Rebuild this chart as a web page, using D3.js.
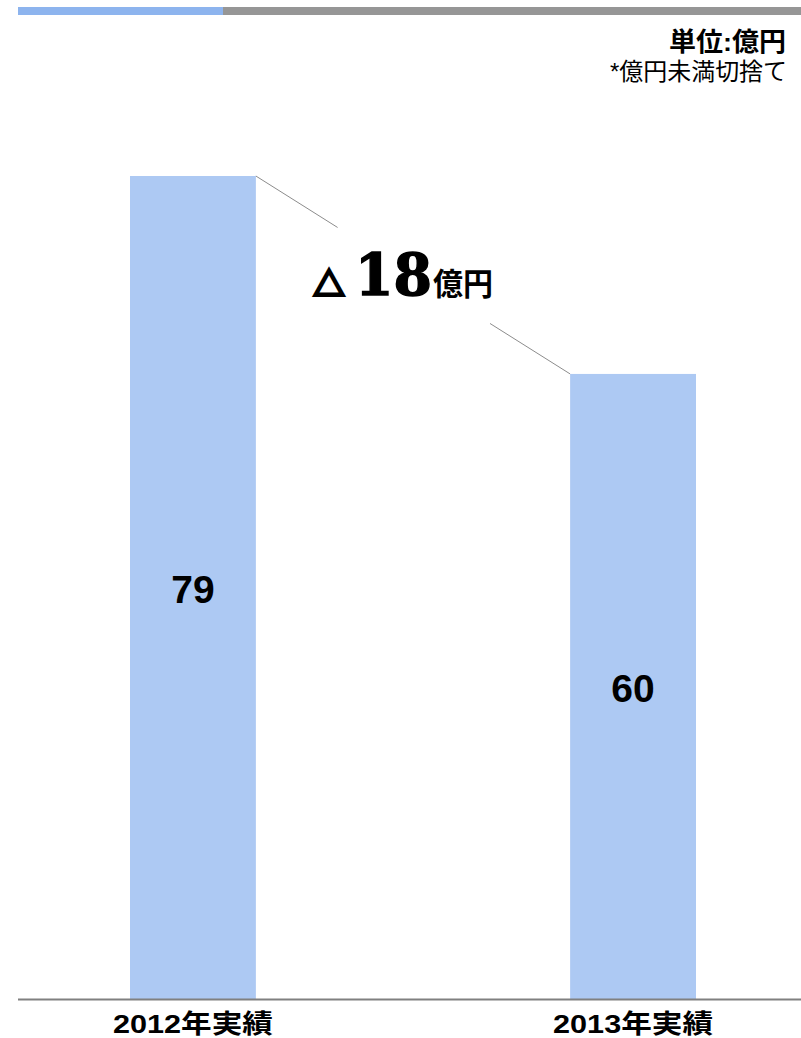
<!DOCTYPE html>
<html><head><meta charset="utf-8">
<script src="https://cdn.jsdelivr.net/npm/d3@7"></script>
<style>html,body{margin:0;padding:0;background:#fff;}svg{display:block;}</style>
</head><body>
<script>
const categories = ["2012年実績", "2013年実績"];
const values = [79, 60];
const deltaSymbol = "△";
const deltaNumber = "18";
const deltaUnit = "億円";
const unitLabel = "単位:億円";
const noteLabel = "*億円未満切捨て";

const W = 801, H = 1038;
const JP = "'Liberation Sans', 'Noto Sans CJK JP', sans-serif";
const svg = d3.select("body").append("svg").attr("width", W).attr("height", H);

// top decorative bar
svg.append("rect").attr("x", 18).attr("y", 7).attr("width", 783).attr("height", 8).attr("fill", "#969696");
svg.append("rect").attr("x", 18).attr("y", 7).attr("width", 205).attr("height", 8).attr("fill", "#8db4ee");

svg.append("text").attr("x", 786).attr("y", 51).attr("text-anchor", "end")
  .attr("font-family", JP).attr("font-weight", "bold").attr("font-size", 26)
  .attr("textLength", 117).attr("lengthAdjust", "spacingAndGlyphs")
  .text(unitLabel);
svg.append("text").attr("x", 787).attr("y", 80).attr("text-anchor", "end")
  .attr("font-family", JP).attr("font-size", 24)
  .attr("textLength", 177).attr("lengthAdjust", "spacingAndGlyphs")
  .text(noteLabel);

const x = d3.scaleBand().domain(categories).range([130, 696]).paddingInner(0.714).paddingOuter(0);
const y = d3.scaleLinear().domain([0, 79]).range([999, 176]);

svg.selectAll("rect.bar").data(values).enter().append("rect").attr("class", "bar")
  .attr("x", (d, i) => x(categories[i]))
  .attr("y", d => y(d))
  .attr("width", x.bandwidth())
  .attr("height", d => y(0) - y(d))
  .attr("fill", "#adc9f3");

svg.selectAll("text.val").data(values).enter().append("text").attr("class", "val")
  .attr("x", (d, i) => x(categories[i]) + x.bandwidth() / 2)
  .attr("y", d => (y(d) + y(0)) / 2 + 15.5)
  .attr("text-anchor", "middle")
  .attr("font-family", "Liberation Sans").attr("font-weight", "bold").attr("font-size", 39)
  .text(d => d);

// baseline
svg.append("line").attr("x1", 18).attr("x2", 801).attr("y1", y(0) + 0.5).attr("y2", y(0) + 0.5)
  .attr("stroke", "#808080").attr("stroke-width", 2);

// category labels
svg.selectAll("text.cat").data(categories).enter().append("text").attr("class", "cat")
  .attr("x", d => x(d) + x.bandwidth() / 2)
  .attr("y", 1032.5)
  .attr("text-anchor", "middle")
  .attr("font-family", JP).attr("font-weight", "bold").attr("font-size", 26)
  .attr("textLength", 160).attr("lengthAdjust", "spacingAndGlyphs")
  .text(d => d);

// connector lines
const x1 = x(categories[0]) + x.bandwidth(), y1 = y(values[0]);
const x2 = x(categories[1]), y2 = y(values[1]);
const lerp = t => [x1 + (x2 - x1) * t, y1 + (y2 - y1) * t];
const a = lerp(0.26), b = lerp(0.745);
svg.append("line").attr("x1", x1).attr("y1", y1).attr("x2", a[0]).attr("y2", a[1])
  .attr("stroke", "#8c8c8c").attr("stroke-width", 1);
svg.append("line").attr("x1", b[0]).attr("y1", b[1]).attr("x2", x2).attr("y2", y2)
  .attr("stroke", "#8c8c8c").attr("stroke-width", 1);

// delta label
svg.append("text").attr("x", 329).attr("y", 295).attr("text-anchor", "middle")
  .attr("font-family", "'Noto Sans CJK JP'").attr("font-weight", "bold").attr("font-size", 31)
  .attr("stroke", "#000").attr("stroke-width", 3).attr("stroke-linejoin", "miter")
  .text(deltaSymbol);
svg.append("text").attr("x", 355).attr("y", 295)
  .attr("font-family", "DejaVu Serif").attr("font-weight", "bold").attr("font-size", 57)
  .attr("stroke", "#000").attr("stroke-width", 1.5)
  .attr("textLength", 77).attr("lengthAdjust", "spacingAndGlyphs")
  .text(deltaNumber);
svg.append("text").attr("x", 433).attr("y", 295)
  .attr("font-family", JP).attr("font-weight", "bold").attr("font-size", 31)
  .attr("textLength", 60).attr("lengthAdjust", "spacingAndGlyphs")
  .text(deltaUnit);
</script>
</body></html>
